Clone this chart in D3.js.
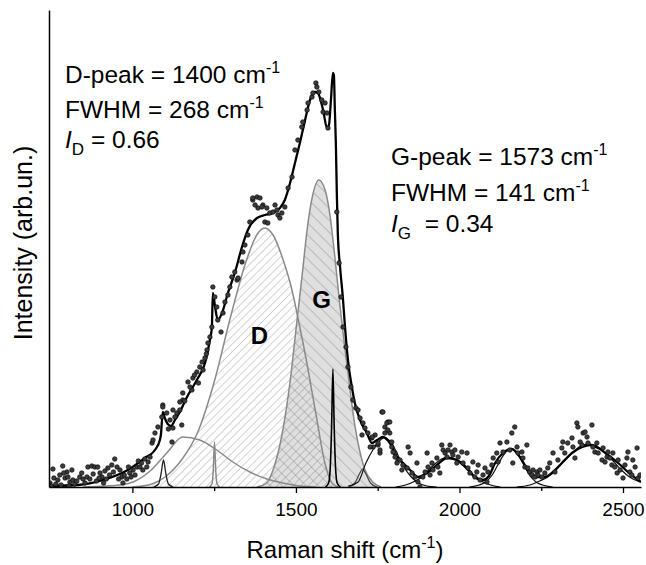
<!DOCTYPE html>
<html><head><meta charset="utf-8">
<script src="https://cdn.jsdelivr.net/npm/d3@7"></script>
<style>
html,body{margin:0;padding:0;background:#fff;}
svg{display:block;font-family:"Liberation Sans",Arial,sans-serif;}
</style></head>
<body><svg id="chart" width="646" height="565"></svg>
<script>
// ---- data (wavenumber cm-1, intensity in arbitrary units) ----
const xTicks = [1000, 1500, 2000, 2500];
const xMinorTicks = [1250, 1750, 2250];

const fitLine = [[745,1],[833,2],[910,7],[986,17],[1038,29],[1069,37],[1084,47],[1087,52],[1093,75],[1099,69],[1108,63],[1118,61],[1130,67],[1145,75],[1167,90],[1197,107],[1222,124],[1237,147],[1243,160],[1246,194],[1252,182],[1261,167],[1274,174],[1292,194],[1313,214],[1335,240],[1353,257],[1381,269],[1405,272],[1430,274],[1451,279],[1466,287],[1482,304],[1497,324],[1512,344],[1528,367],[1543,387],[1558,395],[1567,394],[1583,377],[1595,359],[1601,362],[1607,387],[1613,414],[1616,412],[1619,377],[1622,344],[1625,294],[1628,254],[1635,220],[1644,187],[1650,160],[1659,127],[1671,100],[1680,84],[1696,67],[1717,54],[1732,44],[1748,47],[1766,50],[1787,44],[1809,30],[1818,27],[1849,17],[1873,10],[1901,14],[1931,22],[1962,29],[1992,27],[2023,19],[2047,10],[2072,7],[2090,11],[2109,24],[2133,34],[2160,38],[2185,30],[2209,17],[2237,10],[2261,10],[2286,15],[2313,24],[2344,34],[2375,40],[2399,42],[2424,39],[2454,32],[2485,24],[2515,15],[2546,7],[2555,5]];

const peakD = [[1000,0],[1030,1],[1060,3],[1100,10],[1150,27],[1200,55],[1250,105],[1300,170],[1350,228],[1380,252],[1405,259],[1430,252],[1460,228],[1490,194],[1503,174],[1530,130],[1560,75],[1590,22],[1610,4],[1630,0]];
const peakG = [[1380,0],[1410,4],[1430,17],[1460,57],[1482,105],[1503,166],[1520,215],[1534,257],[1550,290],[1570,307],[1590,296],[1604,272],[1619,230],[1635,180],[1650,138],[1665,98],[1680,62],[1695,36],[1710,18],[1735,5],[1760,0]];
const peakBroad = [[850,0],[920,1],[960,2],[1002,5],[1054,16],[1105,34],[1154,50],[1206,47],[1258,37],[1307,25],[1359,15],[1411,8],[1460,4],[1512,1],[1560,0]];
const peak1095 = [[1065,0],[1080,3],[1088,14],[1095,27],[1102,14],[1110,3],[1125,0]];
const peak1250 = [[1235,0],[1243,3],[1247,15],[1251,45],[1255,15],[1259,3],[1267,0]];
const peak1613 = [[1590,0],[1600,4],[1605,20],[1609,60],[1613,118],[1617,60],[1621,20],[1626,4],[1636,0]];
const peak1704 = [[1660,0],[1680,4],[1694,13],[1704,18],[1714,13],[1728,4],[1748,0]];
const peak1770 = [[1660,1],[1690,5],[1714,24],[1735,37],[1752,45],[1770,49],[1790,45],[1810,33],[1830,20],[1850,11],[1870,5],[1900,1],[1930,0]];
const peak1965 = [[1805,0],[1835,2],[1865,6],[1885,10],[1905,17],[1925,23],[1945,28],[1965,30],[1985,28],[2005,23],[2025,17],[2045,10],[2065,6],[2095,2],[2125,0]];
const peak2157 = [[2030,0],[2060,2],[2080,5],[2100,12],[2117,22],[2137,33],[2157,38],[2177,33],[2197,22],[2214,12],[2234,5],[2254,2],[2285,0]];
const peak2395 = [[2175,0],[2215,2],[2245,6],[2270,10],[2295,17],[2320,26],[2345,34],[2370,41],[2395,43],[2420,41],[2445,34],[2470,26],[2495,17],[2520,10],[2545,6],[2555,5]];

const dots = [[748,4],[760,9],[757,18],[772,7],[778,12],[787,21],[794,9],[800,15],[803,10],[815,17],[809,5],[818,7],[824,3],[839,10],[849,8],[861,10],[864,20],[876,21],[885,20],[894,20],[901,14],[907,10],[916,16],[925,19],[937,22],[946,28],[953,20],[962,17],[968,10],[971,4],[983,8],[992,14],[1002,17],[1014,20],[1023,20],[1032,17],[1044,20],[1054,30],[1060,44],[1063,47],[1069,54],[1078,60],[1090,70],[1093,82],[1105,74],[1115,67],[1124,59],[1121,45],[1136,74],[1145,77],[1154,87],[1151,62],[1093,80],[1124,77],[1145,85],[1154,94],[1170,105],[1182,97],[1185,109],[1197,115],[1206,120],[1213,125],[1216,117],[1222,129],[1228,137],[1231,144],[1237,150],[1243,160],[1246,200],[1252,190],[1258,180],[1261,167],[1271,155],[1277,174],[1283,185],[1292,192],[1298,200],[1304,210],[1313,215],[1320,207],[1323,209],[1335,225],[1338,235],[1344,242],[1353,252],[1359,265],[1368,287],[1381,290],[1390,289],[1384,279],[1399,282],[1405,265],[1414,264],[1420,274],[1430,275],[1436,282],[1442,277],[1445,272],[1368,289],[1375,282],[1396,280],[1411,279],[1457,274],[1451,269],[1466,280],[1476,299],[1488,310],[1497,337],[1506,347],[1518,360],[1521,365],[1534,377],[1537,384],[1549,390],[1552,394],[1561,404],[1564,400],[1570,395],[1579,387],[1589,384],[1583,375],[1595,374],[1598,359],[1625,275],[1632,224],[1638,190],[1644,160],[1653,140],[1659,120],[1668,100],[1674,87],[1683,79],[1690,77],[1696,69],[1705,64],[1702,52],[1711,59],[1720,54],[1732,49],[1736,40],[1751,42],[1757,34],[1763,75],[1772,60],[1781,65],[1787,54],[1793,45],[1803,34],[1812,27],[1766,75],[1778,64],[1787,65],[1781,57],[1772,54],[1742,52],[1733,50],[1751,44],[1727,40],[1757,37],[1793,40],[1797,35],[1803,30],[1818,27],[1809,24],[1827,22],[1824,17],[1840,19],[1843,40],[1849,34],[1855,14],[1864,10],[1870,24],[1873,5],[1879,0],[1888,10],[1895,15],[1901,34],[1904,20],[1910,12],[1916,24],[1919,17],[1931,29],[1934,20],[1940,14],[1946,42],[1950,37],[1956,34],[1962,30],[1965,37],[1971,42],[1977,35],[1980,32],[1986,37],[1992,24],[1996,30],[2007,35],[2011,24],[2023,34],[2026,19],[2032,14],[2041,25],[2047,10],[2053,15],[2057,22],[2063,7],[2072,12],[2078,19],[2084,5],[2087,15],[2099,22],[2103,29],[2114,34],[2118,25],[2124,44],[2133,35],[2145,45],[2154,37],[2160,54],[2169,60],[2163,24],[2176,40],[2179,34],[2191,35],[2194,29],[2206,42],[2200,20],[2209,19],[2215,15],[2222,12],[2225,17],[2231,10],[2237,15],[2240,12],[2246,17],[2252,10],[2261,14],[2270,19],[2276,24],[2286,34],[2292,15],[2301,27],[2313,39],[2316,45],[2322,34],[2331,44],[2344,49],[2347,40],[2353,29],[2359,64],[2362,60],[2369,45],[2375,42],[2378,54],[2384,55],[2390,50],[2393,44],[2405,62],[2408,40],[2414,35],[2420,44],[2424,34],[2436,27],[2439,39],[2445,25],[2451,30],[2454,35],[2460,29],[2466,22],[2469,34],[2475,20],[2482,14],[2485,27],[2491,17],[2500,9],[2506,22],[2512,29],[2515,35],[2521,15],[2527,12],[2530,27],[2537,20],[2543,39],[2546,9],[2552,12],
[752,1],[766,3],[782,2],[790,14],[806,1],[830,6],[845,14],[855,4],[870,8],[880,13],[890,6],[898,9],[912,4],[920,8],[930,12],[942,15],[958,8],[975,12],[988,20],[996,10],[1008,12],[1018,26],[1028,24],[1038,28],[1048,25],[1110,58],[1130,70],[1160,86],[1176,100],[1190,112],[1202,104],[1226,133]];

// ---- drawing ----
const svg = d3.select("#chart");
const L = 49, R = 641, T = 10, B = 487;
const x = d3.scaleLinear().domain([745, 2555]).range([L, R]);
const y = d3.scaleLinear().domain([0, 477]).range([B, T]);

const defs = svg.append("defs");
defs.append("clipPath").attr("id","clip").append("rect")
  .attr("x",L).attr("y",T-5).attr("width",R-L).attr("height",B-T+5);
const pD = defs.append("pattern").attr("id","hatchD").attr("patternUnits","userSpaceOnUse")
  .attr("width",5.5).attr("height",5.5).attr("patternTransform","rotate(45)");
pD.append("rect").attr("width",5.5).attr("height",5.5).attr("fill","#fff");
pD.append("line").attr("x1",0).attr("y1",0).attr("x2",0).attr("y2",5.5).attr("stroke","#909090").attr("stroke-width",0.8);
const pG = defs.append("pattern").attr("id","hatchG").attr("patternUnits","userSpaceOnUse")
  .attr("width",8.5).attr("height",8.5).attr("patternTransform","rotate(-45)");
pG.append("line").attr("x1",0).attr("y1",0).attr("x2",0).attr("y2",8.5).attr("stroke","#808080").attr("stroke-width",0.8);

const g = svg.append("g").attr("clip-path","url(#clip)");
const line = d3.line().x(d=>x(d[0])).y(d=>y(d[1])).curve(d3.curveMonotoneX);
const area = d3.area().x(d=>x(d[0])).y0(y(0)).y1(d=>y(d[1])).curve(d3.curveMonotoneX);

g.append("path").datum(peakD).attr("d",area).attr("fill","url(#hatchD)");
g.append("path").datum(peakG).attr("d",area).attr("fill","rgba(120,120,120,0.24)");
g.append("path").datum(peakG).attr("d",area).attr("fill","url(#hatchG)");
const gray = "#8a8a8a";
[peakD, peakG, peakBroad, peak1250].forEach(p=>{
  g.append("path").datum(p).attr("d",line).attr("fill","none").attr("stroke",gray).attr("stroke-width",1.5);
});
g.append("path").datum(peak1095).attr("d",line).attr("fill","none").attr("stroke","#222").attr("stroke-width",1.3);
g.append("path").datum(peak1704).attr("d",line).attr("fill","none").attr("stroke","#444").attr("stroke-width",1.2);
g.append("path").datum(peak1613).attr("d",line).attr("fill","none").attr("stroke","#000").attr("stroke-width",1.6);
[peak1770, peak1965, peak2157, peak2395].forEach(p=>{
  g.append("path").datum(p).attr("d",line).attr("fill","none").attr("stroke","#111").attr("stroke-width",1.2);
});
g.append("path").datum(fitLine).attr("d",line).attr("fill","none").attr("stroke","#000").attr("stroke-width",2.3);
g.selectAll("circle.dot").data(dots).enter().append("circle").attr("class","dot")
  .attr("cx",d=>x(d[0])).attr("cy",d=>y(d[1])).attr("r",2.3)
  .attr("fill","#3c3c3c").attr("stroke","#000").attr("stroke-width",0.6);

// axes
const xa = svg.append("g").attr("transform",`translate(0,${B})`)
  .call(d3.axisBottom(x).tickValues(xTicks).tickSize(6).tickSizeOuter(0).tickPadding(10).tickFormat(d3.format("d")));
xa.select(".domain").attr("stroke","#000").attr("stroke-width",1.5);
xa.selectAll(".tick line").attr("stroke","#000").attr("stroke-width",1.3);
xa.selectAll(".tick text").attr("font-size",19).attr("fill","#000").attr("font-family","'Liberation Sans',Arial,sans-serif");
const xm = svg.append("g").attr("transform",`translate(0,${B})`)
  .call(d3.axisBottom(x).tickValues(xMinorTicks).tickSize(4).tickSizeOuter(0).tickFormat(""));
xm.select(".domain").remove();
xm.selectAll(".tick line").attr("stroke","#000").attr("stroke-width",1.3);
const ya = svg.append("g").attr("transform",`translate(${L},0)`)
  .call(d3.axisLeft(y).tickValues([]).tickSizeOuter(0));
ya.select(".domain").attr("stroke","#000").attr("stroke-width",1.5);

// axis titles
const xt = svg.append("text").attr("x",345).attr("y",558).attr("text-anchor","middle").attr("font-size",24);
xt.append("tspan").text("Raman shift (cm");
xt.append("tspan").attr("dy",-10).attr("font-size",16).text("-1");
xt.append("tspan").attr("dy",10).text(")");
svg.append("text").attr("transform","translate(32,243) rotate(-90)").attr("text-anchor","middle")
  .attr("font-size",25).text("Intensity (arb.un.)");

// annotations
function sup(sel, main, s){ sel.append("tspan").text(main); sel.append("tspan").attr("dy",-10).attr("font-size",16).text(s); }
const fs = 24.5;
const t1 = svg.append("text").attr("x",65).attr("y",83).attr("font-size",fs); sup(t1,"D-peak = 1400 cm","-1");
const t2 = svg.append("text").attr("x",65).attr("y",118).attr("font-size",fs); sup(t2,"FWHM = 268 cm","-1");
const t3 = svg.append("text").attr("x",65).attr("y",148).attr("font-size",fs);
t3.append("tspan").attr("font-style","italic").text("I");
t3.append("tspan").attr("dy",7).attr("font-size",17).text("D");
t3.append("tspan").attr("dy",-7).text(" = 0.66");
const t4 = svg.append("text").attr("x",391).attr("y",165).attr("font-size",fs); sup(t4,"G-peak = 1573 cm","-1");
const t5 = svg.append("text").attr("x",391).attr("y",201).attr("font-size",fs); sup(t5,"FWHM = 141 cm","-1");
const t6 = svg.append("text").attr("x",391).attr("y",232).attr("font-size",fs);
t6.append("tspan").attr("font-style","italic").text("I");
t6.append("tspan").attr("dy",7).attr("font-size",17).text("G");
t6.append("tspan").attr("dy",-7).text("\u00a0 = 0.34");

svg.append("text").attr("x",259.5).attr("y",344).attr("text-anchor","middle").attr("font-size",24).attr("font-weight","bold").text("D");
svg.append("text").attr("x",321.5).attr("y",308).attr("text-anchor","middle").attr("font-size",24).attr("font-weight","bold").text("G");
</script></body></html>
